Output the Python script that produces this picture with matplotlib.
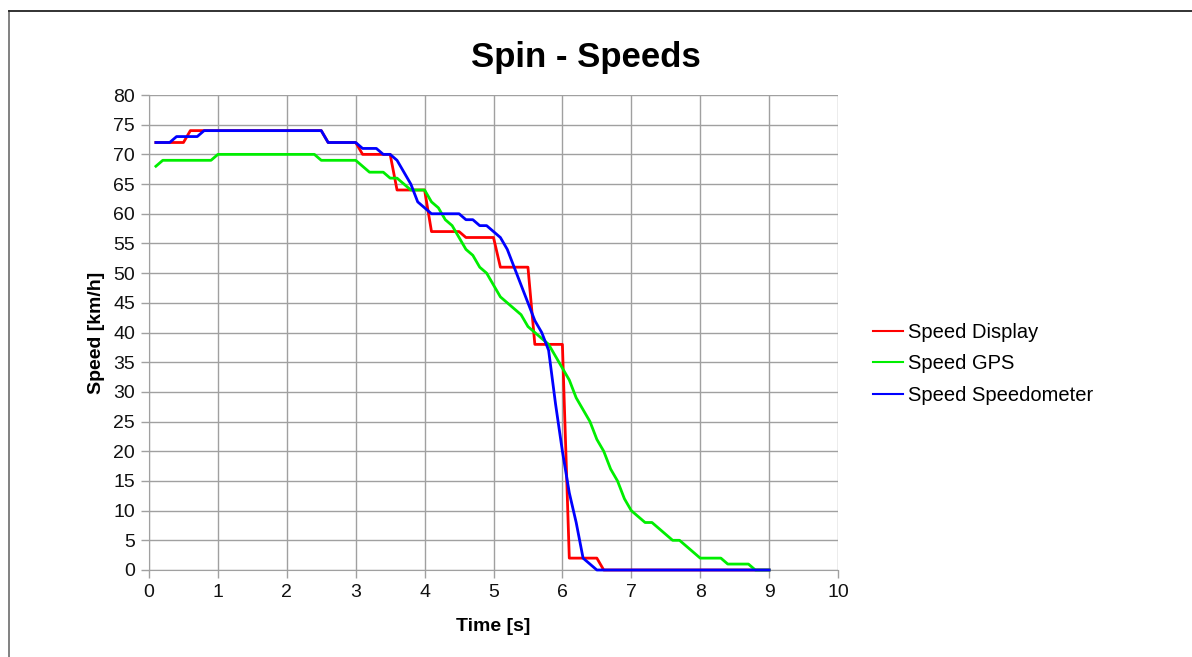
import numpy as np
import matplotlib
matplotlib.use("Agg")
import matplotlib.pyplot as plt
from matplotlib.lines import Line2D

plt.rcParams['font.family'] = ['Liberation Sans', 'DejaVu Sans']

# --- data, sampled every 0.1 s ---
time_s = np.round(np.arange(0.1, 9.01, 0.1), 1)

speed_display = [
    72, 72, 72, 72, 72, 74, 74, 74, 74, 74,   # 0.1 - 1.0
    74, 74, 74, 74, 74, 74, 74, 74, 74, 74,   # 1.1 - 2.0
    74, 74, 74, 74, 74, 72, 72, 72, 72, 72,   # 2.1 - 3.0
    70, 70, 70, 70, 70, 64, 64, 64, 64, 64,   # 3.1 - 4.0
    57, 57, 57, 57, 57, 56, 56, 56, 56, 56,   # 4.1 - 5.0
    51, 51, 51, 51, 51, 38, 38, 38, 38, 38,   # 5.1 - 6.0
    2, 2, 2, 2, 2, 0, 0, 0, 0, 0,             # 6.1 - 7.0
    0, 0, 0, 0, 0, 0, 0, 0, 0, 0,             # 7.1 - 8.0
    0, 0, 0, 0, 0, 0, 0, 0, 0, 0,             # 8.1 - 9.0
]

speed_gps = [
    68, 69, 69, 69, 69, 69, 69, 69, 69, 70,
    70, 70, 70, 70, 70, 70, 70, 70, 70, 70,
    70, 70, 70, 70, 69, 69, 69, 69, 69, 69,
    68, 67, 67, 67, 66, 66, 65, 64, 64, 64,
    62, 61, 59, 58, 56, 54, 53, 51, 50, 48,
    46, 45, 44, 43, 41, 40, 39, 38, 36, 34,
    32, 29, 27, 25, 22, 20, 17, 15, 12, 10,
    9, 8, 8, 7, 6, 5, 5, 4, 3, 2,
    2, 2, 2, 1, 1, 1, 1, 0, 0, 0,
]

speed_speedo = [
    72, 72, 72, 73, 73, 73, 73, 74, 74, 74,
    74, 74, 74, 74, 74, 74, 74, 74, 74, 74,
    74, 74, 74, 74, 74, 72, 72, 72, 72, 72,
    71, 71, 71, 70, 70, 69, 67, 65, 62, 61,
    60, 60, 60, 60, 60, 59, 59, 58, 58, 57,
    56, 54, 51, 48, 45, 42, 40, 37, 28, 20,
    13, 8, 2, 1, 0, 0, 0, 0, 0, 0,
    0, 0, 0, 0, 0, 0, 0, 0, 0, 0,
    0, 0, 0, 0, 0, 0, 0, 0, 0, 0,
]

series_names = ["Speed Display", "Speed GPS", "Speed Speedometer"]
series_colors = ["#ff0000", "#00ee00", "#0000ff"]

# --- figure ---
fig = plt.figure(figsize=(11.92, 6.57), dpi=100)
ax = fig.add_axes([149/1192, 1 - 570/657, (838 - 149)/1192, (570 - 95)/657])

for vals, name, col in zip([speed_display, speed_gps, speed_speedo], series_names, series_colors):
    ax.plot(time_s, vals, color=col, lw=2.0, label=name, clip_on=False, zorder=3)

ax.set_xlim(0, 10)
ax.set_ylim(0, 80)
ax.set_xticks(range(0, 11))
ax.set_yticks(range(0, 81, 5))
ax.grid(True, color="#a0a0a0", lw=1.0)
ax.set_axisbelow(True)
for s in ["top", "right"]:
    ax.spines[s].set_visible(False)
for s in ["left", "bottom"]:
    ax.spines[s].set_color("#a0a0a0")
ax.tick_params(axis="both", colors="#a0a0a0", labelcolor="#111111", labelsize=14,
               length=6, width=1.0, direction="out", pad=4)

ax.set_xlabel("Time [s]", fontsize=14, fontweight="bold", labelpad=12)
ax.set_ylabel("Speed [km/h]", fontsize=14, fontweight="bold", labelpad=6)

fig.text(586/1192, 1 - 58/657, "Spin - Speeds", ha="center", va="center",
         fontsize=25, fontweight="bold")

# legend outside, right of the plot
handles = [Line2D([], [], color=c, lw=1.5) for c in series_colors]
fig.legend(handles, series_names, loc="center left",
           bbox_to_anchor=(855/1192, 1 - 364/657), frameon=False,
           fontsize=14.5, handlelength=1.5, handletextpad=0.25, labelspacing=0.6)

# outer frame of the picture
fig.add_artist(Line2D([9/1192, 9/1192], [0, 1 - 11/657], transform=fig.transFigure,
                      color="#777777", lw=1.3))
fig.add_artist(Line2D([9/1192, 1], [1 - 11/657, 1 - 11/657], transform=fig.transFigure,
                      color="#222222", lw=1.3))

fig.savefig("out.png", dpi=100)
